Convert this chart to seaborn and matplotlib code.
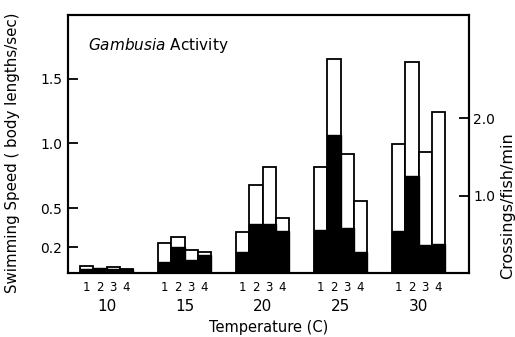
import matplotlib
matplotlib.use("Agg")
import matplotlib.pyplot as plt
import seaborn as sns
import pandas as pd

# ---- data ----
temperatures = ["10", "15", "20", "25", "30"]
trials = ["1", "2", "3", "4"]

# swimming speed (body lengths/sec), open bars, left axis
speed_10 = [0.054, 0.030, 0.045, 0.033]
speed_15 = [0.228, 0.279, 0.177, 0.159]
speed_20 = [0.313, 0.679, 0.821, 0.421]
speed_25 = [0.821, 1.654, 0.915, 0.556]
speed_30 = [0.998, 1.628, 0.933, 1.244]

# crossings / fish / min, filled bars, right axis
cross_10 = [0.050, 0.064, 0.050, 0.050]
cross_15 = [0.138, 0.335, 0.171, 0.235]
cross_20 = [0.270, 0.630, 0.630, 0.544]
cross_25 = [0.557, 1.780, 0.579, 0.270]
cross_30 = [0.537, 1.252, 0.364, 0.377]

left_ticks = [0.2, 0.5, 1.0, 1.5]
left_ticklabels = ["0.2", "0.5", "1.0", "1.5"]
right_ticks = [1.0, 2.0]
right_ticklabels = ["1.0", "2.0"]

speeds = [speed_10, speed_15, speed_20, speed_25, speed_30]
crosses = [cross_10, cross_15, cross_20, cross_25, cross_30]
rows = []
for t, sv, cv in zip(temperatures, speeds, crosses):
    for tr, s, c in zip(trials, sv, cv):
        rows.append({"temp": t, "trial": tr, "speed": s, "cross": c})
df = pd.DataFrame(rows)

# ---- figure ----
sns.set_style("white")
plt.rcParams["font.family"] = ["DejaVu Sans"]
plt.rcParams["text.color"] = "black"
plt.rcParams["axes.labelcolor"] = "black"
plt.rcParams["xtick.color"] = "black"
plt.rcParams["ytick.color"] = "black"

fig = plt.figure(figsize=(5.15, 3.37), dpi=100)
fig.patch.set_facecolor("white")
ax = fig.add_axes([68 / 515, 1 - 273 / 337, (469 - 68) / 515, (273 - 15) / 337])

GW = 0.68
sns.barplot(data=df, x="temp", y="speed", hue="trial", order=temperatures,
            hue_order=trials, palette=["white"] * 4, edgecolor="black",
            linewidth=1.3, width=GW, saturation=1, legend=False, ax=ax,
            errorbar=None)
ax2 = ax.twinx()
sns.barplot(data=df, x="temp", y="cross", hue="trial", order=temperatures,
            hue_order=trials, palette=["black"] * 4, edgecolor="black",
            linewidth=1.0, width=GW, saturation=1, legend=False, ax=ax2,
            errorbar=None)

ax.set_xlim(-0.494, 4.647)
ax.set_ylim(0, 1.99)
ax2.set_ylim(0, 3.33)

# x ticks: trial numbers under each bar, temperature under each group
bw = GW / len(trials)
pos = []
labs = []
for i in range(len(temperatures)):
    for j, tr in enumerate(trials):
        pos.append(i + (j - 1.5) * bw)
        labs.append(tr)
ax.set_xticks(pos)
ax.set_xticklabels(labs, fontsize=8.5)
ax.set_xticks(range(len(temperatures)), minor=True)
ax.set_xticklabels(temperatures, minor=True, fontsize=11)
ax.tick_params(axis="x", which="major", length=0, pad=5.5)
ax.tick_params(axis="x", which="minor", length=0, pad=19)
ax.set_xlabel("Temperature (C)", fontsize=10.5, labelpad=4)

ax.set_yticks(left_ticks)
ax.set_yticklabels(left_ticklabels, fontsize=10)
ax.tick_params(axis="y", direction="in", length=7, width=1.3, pad=4, left=True)
ax.set_ylabel("Swimming Speed ( body lengths/sec)", fontsize=10.8)
ax.yaxis.set_label_coords(-0.12, 0.465)

ax2.set_yticks(right_ticks)
ax2.set_yticklabels(right_ticklabels, fontsize=10)
ax2.tick_params(axis="y", direction="in", length=7, width=1.3, pad=3, right=True)
ax2.set_ylabel("Crossings/fish/min", fontsize=11.5, rotation=90, va="center")
ax2.yaxis.set_label_coords(1.097, 0.262)

for a in (ax, ax2):
    for s in a.spines.values():
        s.set_visible(True)
        s.set_linewidth(1.5)
        s.set_color("black")

ax.text(0.05, 0.881, r"$\it{Gambusia}$ Activity", transform=ax.transAxes,
        fontsize=11, va="center", ha="left")

fig.savefig("out.png", dpi=100)
